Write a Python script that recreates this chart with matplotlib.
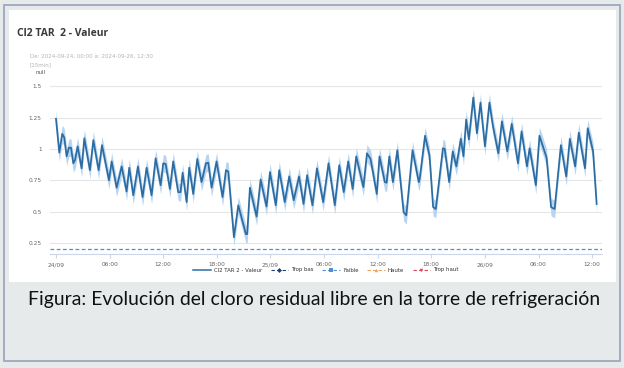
import numpy as np
import matplotlib.pyplot as plt
from matplotlib.patches import Rectangle
from matplotlib.lines import Line2D

# hours since 2024-09-24 00:00, turning points
hours = [0.0, 0.37, 0.7, 0.93, 1.19, 1.45, 1.68, 1.94, 2.13, 2.42, 2.87, 3.17, 3.8, 4.18,
         4.77, 5.15, 5.93, 6.23, 6.79, 7.35, 7.9, 8.2, 8.65, 9.17, 9.69, 10.14, 10.7, 11.15,
         11.71, 12.0, 12.27, 12.75, 13.12, 13.68, 13.94, 14.17, 14.62, 14.91, 15.36, 15.81,
         16.29, 16.78, 17.04, 17.41, 17.97, 18.64, 19.02, 19.28, 19.91, 20.4, 21.25, 21.4,
         21.7, 22.45, 22.9, 23.56, 23.94, 24.6, 24.98, 25.6, 26.1, 26.6, 27.2, 27.7, 28.1,
         28.7, 29.2, 29.9, 30.5, 31.2, 31.7, 32.2, 32.7, 33.2, 33.6, 34.4, 34.8, 35.2, 35.9,
         36.2, 36.8, 37.0, 37.3, 37.7, 38.2, 38.9, 39.2, 39.9, 40.6, 40.7, 41.3, 41.8, 42.2,
         42.5, 43.3, 43.5, 44.0, 44.4, 44.8, 45.3, 45.6, 45.9, 46.2, 46.7, 47.1, 47.5, 48.0,
         48.5, 48.9, 49.5, 49.9, 50.5, 51.0, 51.7, 52.1, 52.7, 53.0, 53.7, 54.1, 54.9, 55.4,
         55.8, 56.5, 57.1, 57.5, 58.1, 58.5, 59.2, 59.5, 60.1, 60.5]
valeur = [1.24, 0.97, 1.12, 1.09, 0.94, 1.01, 1.01, 0.885, 0.91, 1.02, 0.845, 1.085, 0.83, 1.07,
          0.83, 1.03, 0.75, 0.9, 0.69, 0.86, 0.66, 0.85, 0.63, 0.86, 0.615, 0.85, 0.63, 0.925,
          0.71, 0.885, 0.88, 0.68, 0.9, 0.655, 0.655, 0.81, 0.575, 0.85, 0.64, 0.92,
          0.735, 0.885, 0.89, 0.69, 0.9, 0.615, 0.83, 0.82, 0.295, 0.55, 0.32, 0.32,
          0.69, 0.46, 0.755, 0.54, 0.815, 0.55, 0.83, 0.575, 0.78, 0.59, 0.78, 0.56, 0.79,
          0.55, 0.845, 0.575, 0.885, 0.55, 0.87, 0.655, 0.9, 0.68, 0.94, 0.695, 0.965, 0.92, 0.64,
          0.94, 0.735, 0.73, 0.94, 0.735, 0.99, 0.495, 0.47, 0.99, 0.735, 0.76, 1.105, 0.945, 0.535,
          0.52, 1.005, 1.0, 0.735, 0.98, 0.86, 1.08, 0.94, 1.235, 1.075, 1.41, 1.125, 1.37, 1.02,
          1.37, 1.18, 0.965, 1.22, 0.98, 1.2, 0.885, 1.14, 0.86, 1.005, 0.71, 1.105, 0.93, 0.535,
          0.52, 1.03, 0.78, 1.08, 0.86, 1.13, 0.845, 1.165, 0.98, 0.56]
spread = 0.07

seuils = {'Trop bas': 0.1, 'Faible': 0.2, 'Haute': 2.0, 'Trop haut': 2.5}

xticks = [0, 6, 12, 18, 24, 30, 36, 42, 48, 54, 60]
xlabels = ['24/09', '06:00', '12:00', '18:00', '25/09', '06:00', '12:00', '18:00',
           '26/09', '06:00', '12:00']
yticks = [0.25, 0.5, 0.75, 1, 1.25, 1.5]
ylabels = ['0.25', '0.5', '0.75', '1', '1.25', '1.5']

W, H = 624, 368
def fx(x): return x / W
def fy(y): return 1 - y / H

fig = plt.figure(figsize=(W / 100, H / 100), dpi=100)
fig.patch.set_facecolor('#e7eaeb')
# outer frame and white chart panel
fig.patches.append(Rectangle((fx(4), fy(361)), fx(616), 356 / H, transform=fig.transFigure,
                             facecolor='#e7eaeb', edgecolor='#a3adbf', lw=1.4, zorder=-2))
fig.patches.append(Rectangle((fx(9), fy(282)), fx(607), 272 / H, transform=fig.transFigure,
                             facecolor='white', edgecolor='none', zorder=-1))

ax = fig.add_axes([fx(50), fy(254), fx(552), 174 / H])
ax.set_zorder(2)
ax.set_facecolor('white')
t = np.array(hours)
v = np.array(valeur)
ax.fill_between(t, v - spread, v + spread, color='#b8d4ee', lw=0, zorder=2)
ax.plot(t, v, color='#2b6ca3', lw=1.25, solid_joinstyle='round', zorder=3)

cols = {'Trop bas': '#1f3f78', 'Faible': '#4f8fcf', 'Haute': '#f0a45a', 'Trop haut': '#e0485a'}
marks = {'Trop bas': 'D', 'Faible': 's', 'Haute': '^', 'Trop haut': 'v'}
for k, val in seuils.items():
    ax.axhline(val, color=cols[k], lw=0.9, ls=(0, (3, 2)), zorder=2)

ax.set_xlim(-0.67, 61.1)
ax.set_ylim(0.161, 1.55)
ax.set_yticks(yticks)
ax.set_yticklabels(ylabels)
ax.set_xticks(xticks)
ax.set_xticklabels(xlabels)
ax.grid(axis='y', color='#e6e6e6', lw=0.8)
ax.set_axisbelow(True)
for s in ['top', 'left', 'right']:
    ax.spines[s].set_visible(False)
ax.spines['bottom'].set_color('#ccd6eb')
ax.spines['bottom'].set_linewidth(0.8)
ax.tick_params(axis='y', length=0, labelsize=4.2, labelcolor='#666666', pad=6)
ax.tick_params(axis='x', length=3, color='#ccd6eb', labelsize=4.2, labelcolor='#666666', pad=3)

fig.text(fx(17), fy(33), 'Cl2 TAR  2 - Valeur', fontsize=7.5, fontweight='bold',
         family='Open Sans', color='#3a3a3a', va='center')
fig.text(fx(30), fy(56), 'De: 2024-09-24, 00:00 à: 2024-09-26, 12:30', fontsize=4,
         color='#b3b3b3', va='center')
fig.text(fx(30), fy(65), '[15min]', fontsize=4, color='#b3b3b3', va='center')
fig.text(fx(40), fy(73), 'null', fontsize=4, color='#555555', va='center', ha='center')

handles = [Line2D([], [], color='#2b6ca3', lw=1.1)]
labels = ['Cl2 TAR 2 - Valeur']
for k in seuils:
    handles.append(Line2D([], [], color=cols[k], lw=0.8, ls=(0, (3, 2)), marker=marks[k],
                          markersize=2.5, markeredgewidth=0))
    labels.append(k)
fig.legend(handles, labels, loc='center', bbox_to_anchor=(fx(326), fy(270)), ncol=5,
           frameon=False, fontsize=3.9, handlelength=3.2, columnspacing=1.6,
           handletextpad=0.6, labelcolor='#333333')

cap = fig.text(fx(314), fy(300), 'Figura: Evolución del cloro residual libre en la torre de refrigeración',
               fontsize=14, family='Lato', color='#111111', ha='center', va='center')
# fit caption to the width seen in the reference
r = fig.canvas.get_renderer()
wpx = cap.get_window_extent(r).width
cap.set_fontsize(14 * 575 / wpx)

fig.savefig('out.png', dpi=100, facecolor=fig.get_facecolor())
